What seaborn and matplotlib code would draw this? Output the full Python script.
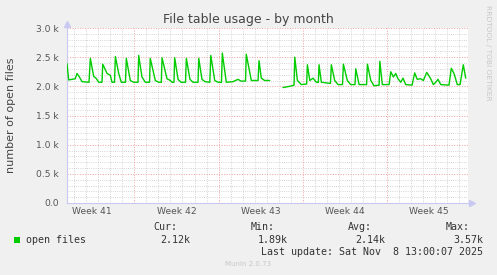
import numpy as np
import pandas as pd
import matplotlib
matplotlib.use("Agg")
import matplotlib.pyplot as plt
import seaborn as sns

# ---- data (days from left edge of the graph, number of open files) ----
days_a = [0.0, 0.14, 0.42, 0.69, 0.83, 1.0, 1.25, 1.83, 1.94, 2.22, 2.41, 2.64, 2.91,
          2.97, 3.33, 3.6, 3.74, 3.95, 4.02, 4.3, 4.51, 4.86, 4.93, 5.26, 5.54, 5.9,
          5.96, 6.23, 6.51, 6.86, 6.92, 7.34, 7.62, 7.84, 7.9, 8.31, 8.59, 8.73, 8.89,
          8.95, 9.23, 9.48, 9.85, 9.92, 10.22, 10.47, 10.89, 10.95, 11.22, 11.47, 11.87,
          11.95, 12.28, 12.55, 12.84, 12.91, 13.24, 13.8, 14.21, 14.46, 14.84, 14.9,
          15.32, 15.88, 15.96, 16.15, 16.43, 16.85]
files_a = [2390, 2110, 2120, 2130, 2220, 2170, 2080, 2070, 2480, 2170, 2140, 2070, 2070,
           2380, 2220, 2190, 2070, 2070, 2510, 2220, 2070, 2070, 2480, 2100, 2070, 2070,
           2530, 2160, 2070, 2070, 2480, 2100, 2070, 2070, 2490, 2130, 2100, 2070, 2070,
           2490, 2120, 2070, 2070, 2480, 2120, 2070, 2070, 2480, 2120, 2080, 2070,
           2530, 2100, 2070, 2070, 2570, 2070, 2080, 2120, 2090, 2090, 2550,
           2100, 2100, 2440, 2140, 2100, 2100]
days_b = [17.96, 18.51, 18.87, 18.93, 19.15, 19.48, 19.92, 19.98, 20.18, 20.45, 20.72,
          20.89, 20.95, 21.14, 21.9, 21.97, 22.25, 22.53, 22.9, 22.97, 23.3, 23.58, 23.94,
          24.0, 24.28, 24.9, 24.97, 25.25, 25.52, 25.94, 26.0, 26.21, 26.77, 26.91, 27.13,
          27.32, 27.51, 27.74, 27.93, 28.15, 28.68, 28.9, 29.11, 29.4, 29.62, 29.9, 30.23,
          30.45, 30.65, 30.84, 31.06, 31.75, 31.94, 32.17, 32.44, 32.67, 32.94, 33.14]
files_b = [1980, 2000, 2020, 2500, 2100, 2030, 2040, 2370, 2100, 2140, 2070,
           2070, 2370, 2070, 2050, 2370, 2100, 2030, 2030, 2380, 2100, 2030, 2030,
           2300, 2030, 2030, 2380, 2100, 2010, 2020, 2430, 2030, 2030, 2250, 2160,
           2220, 2130, 2070, 2140, 2030, 2020, 2230, 2120, 2130, 2100, 2240, 2130,
           2030, 2070, 2120, 2030, 2020, 2310, 2220, 2030, 2030, 2370, 2140]

week_labels = ["Week 41", "Week 42", "Week 43", "Week 44", "Week 45"]
week_starts = [5.6, 12.6, 19.6, 26.6, 33.6]
ytick_values = [0, 500, 1000, 1500, 2000, 2500, 3000]
ytick_labels = ["0.0", "0.5 k", "1.0 k", "1.5 k", "2.0 k", "2.5 k", "3.0 k"]
series_name = "open files"
stat_names = ["Cur:", "Min:", "Avg:", "Max:"]
stat_values = ["2.12k", "1.89k", "2.14k", "3.57k"]
last_update = "Last update: Sat Nov  8 13:00:07 2025"
title = "File table usage - by month"
ylabel = "number of open files"
x_end = 33.33

df = pd.DataFrame({
    "day": days_a + days_b,
    "files": files_a + files_b,
    "segment": [0] * len(days_a) + [1] * len(days_b),
})

sns.set_style("white")
plt.rcParams["font.family"] = ["DejaVu Sans"]

W, H = 497, 275
fig = plt.figure(figsize=(W / 100, H / 100), dpi=100, facecolor="#f0f0f0")
ax = fig.add_axes([67 / W, 1 - 203 / H, (468 - 67) / W, (203 - 28) / H])
ax.set_facecolor("white")

# grid
major_c = "#f0a0a0"
minor_c = "#c8c8c8"
dots = (0, (1, 1.6))
for y in range(0, 3001, 100):
    if y % 500 == 0:
        if y > 0:
            ax.axhline(y, color=major_c, lw=0.7, ls=dots, zorder=1)
    else:
        ax.axhline(y, color=minor_c, lw=0.6, ls=dots, zorder=0.5)
for d in np.arange(week_starts[0] - 5, x_end, 1.0):
    if any(abs(d - w) < 1e-6 for w in week_starts):
        ax.axvline(d, color=major_c, lw=0.7, ls=dots, zorder=1)
    else:
        ax.axvline(d, color=minor_c, lw=0.6, ls=dots, zorder=0.5)

sns.lineplot(data=df, x="day", y="files", units="segment", estimator=None,
             color="#00cc00", lw=1.0, ax=ax, zorder=3)

ax.set_xlim(0, x_end)
ax.set_ylim(0, 3000)
centers = [w - 3.5 for w in week_starts]
ax.set_xticks(centers)
ax.set_xticklabels(week_labels)
ax.set_yticks(ytick_values)
ax.set_yticklabels(ytick_labels)
ax.tick_params(axis="both", length=0, labelsize=6.6, colors="#555555")
ax.tick_params(axis="y", pad=5.8)
ax.tick_params(axis="x", pad=3.2)
ax.set_xlabel("")
ax.set_ylabel("")

for s in ["top", "right"]:
    ax.spines[s].set_visible(False)
for s in ["left", "bottom"]:
    ax.spines[s].set_color("#c8c8f0")
    ax.spines[s].set_linewidth(0.8)
ax.plot([0], [1.025], marker="^", ms=4, color="#c8c8f0", transform=ax.transAxes, clip_on=False)
ax.plot([1.01], [0], marker=">", ms=4, color="#c8c8f0", transform=ax.transAxes, clip_on=False)

def fx(px):
    return px / W

def fy(py):
    return 1 - py / H

fig.text(fx(248), fy(19), title, ha="center", va="center", fontsize=9, color="#444444")
fig.text(fx(11), fy(115), ylabel, ha="center", va="center", rotation=90,
         fontsize=8, color="#444444")
fig.text(fx(488), fy(53), "RRDTOOL / TOBI OETIKER", ha="center", va="center",
         rotation=270, fontsize=5.4, color="#c8c8c8")

mono = "DejaVu Sans Mono"
fig.patches.append(plt.Rectangle((fx(14), fy(243)), 6 / W, 6 / H, transform=fig.transFigure,
                                 facecolor="#00cc00", edgecolor="none"))
fig.text(fx(26), fy(240), series_name, ha="left", va="center", fontsize=7.2,
         family=mono, color="#333333")
name_right = [177, 275, 372, 470]
val_right = [190, 288, 385, 483]
for n, v, nr, vr in zip(stat_names, stat_values, name_right, val_right):
    fig.text(fx(nr), fy(227.5), n, ha="right", va="center", fontsize=7.2, family=mono, color="#333333")
    fig.text(fx(vr), fy(240), v, ha="right", va="center", fontsize=7.2, family=mono, color="#333333")
fig.text(fx(483), fy(252), last_update, ha="right", va="center", fontsize=7.2,
         family=mono, color="#333333")
fig.text(fx(248), fy(264), "Munin 2.0.73", ha="center", va="center", fontsize=5.0,
         color="#c8c8c8")

fig.savefig("out.png", dpi=100, facecolor=fig.get_facecolor())
